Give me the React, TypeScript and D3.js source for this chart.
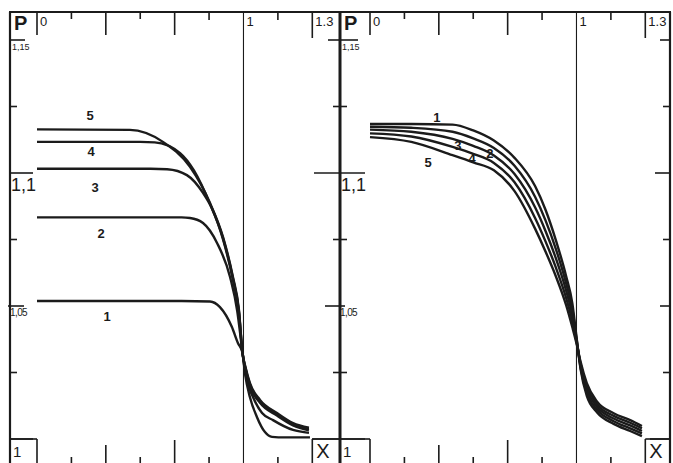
import React from 'react';
import * as d3 from 'd3';

// ---------- data ----------
const X_TICKS = [0, 1 / 6, 1 / 3, 1 / 2, 2 / 3, 5 / 6, 1, 7 / 6, 4 / 3];
const X_TICK_LABELS = [
  { v: 0, t: '0' },
  { v: 1, t: '1' },
  { v: 4 / 3, t: '1.3' },
];
const P_TICKS = [1, 1.025, 1.05, 1.075, 1.1, 1.125, 1.15];

// Left panel curves: [X, P]
const L1: [number, number][] = [[0, 1.0519], [0.7, 1.0519], [0.838, 1.0517], [0.886, 1.0496], [0.944, 1.0421], [0.973, 1.0361], [0.995, 1.0325], [1.007, 1.0248], [1.031, 1.0158], [1.065, 1.0083], [1.104, 1.0026], [1.138, 1.0008], [1.2, 1.0006], [1.322, 1.0006]];
const L2: [number, number][] = [[0, 1.0833], [0.7, 1.0833], [0.741, 1.0831], [0.804, 1.0812], [0.872, 1.0737], [0.935, 1.0609], [0.97, 1.048], [0.985, 1.039], [0.995, 1.0325], [1.015, 1.0225], [1.046, 1.0158], [1.09, 1.0098], [1.143, 1.0071], [1.24, 1.0034], [1.317, 1.0023]];
const L3: [number, number][] = [[0, 1.1016], [0.55, 1.1016], [0.63, 1.1014], [0.726, 1.0992], [0.804, 1.0925], [0.845, 1.087], [0.901, 1.075], [0.949, 1.0598], [0.978, 1.0474], [0.995, 1.0325], [1.01, 1.0262], [1.031, 1.02], [1.08, 1.0136], [1.162, 1.0088], [1.24, 1.0051], [1.317, 1.0033]];
const L4: [number, number][] = [[0, 1.1117], [0.5, 1.1117], [0.57, 1.1115], [0.693, 1.1075], [0.76, 1.101], [0.838, 1.0884], [0.901, 1.0755], [0.949, 1.0604], [0.978, 1.048], [0.995, 1.0325], [1.01, 1.0266], [1.031, 1.0206], [1.08, 1.0142], [1.162, 1.0093], [1.24, 1.0056], [1.317, 1.0038]];
const L5: [number, number][] = [[0, 1.1164], [0.45, 1.1162], [0.61, 1.1117], [0.741, 1.1023], [0.838, 1.0887], [0.901, 1.0759], [0.949, 1.0609], [0.978, 1.0485], [0.995, 1.0325], [1.01, 1.027], [1.031, 1.0211], [1.08, 1.0147], [1.162, 1.0098], [1.24, 1.006], [1.317, 1.0043]];
const LEFT_LABELS = ['1', '2', '3', '4', '5'];
const LEFT_LABEL_POS: [number, number][] = [[0.339, 1.0459], [0.31, 1.0774], [0.281, 1.0944], [0.262, 1.1079], [0.257, 1.1218]];

// Right panel curves share X samples
const RIGHT_X = [0, 0.2, 0.4, 0.5, 0.6, 0.7, 0.8, 0.85, 0.9, 0.95, 0.98, 1.0, 1.02, 1.05, 1.1, 1.18, 1.26, 1.317];
const R1_P = [1.1184, 1.1184, 1.1182, 1.116, 1.1122, 1.1057, 1.095, 1.0862, 1.0748, 1.0612, 1.051, 1.0385, 1.0262, 1.0162, 1.01, 1.0057, 1.003, 1.0011];
const R2_P = [1.1174, 1.117, 1.1155, 1.113, 1.1094, 1.1027, 1.091, 1.0822, 1.0715, 1.0585, 1.0488, 1.0378, 1.0268, 1.0174, 1.011, 1.0067, 1.004, 1.0021];
const R3_P = [1.1163, 1.1155, 1.1128, 1.1102, 1.1066, 1.0996, 1.087, 1.0782, 1.068, 1.0558, 1.0466, 1.0372, 1.0275, 1.0186, 1.012, 1.0077, 1.0051, 1.003];
const R4_P = [1.1149, 1.1137, 1.1098, 1.1072, 1.1038, 1.0965, 1.083, 1.0743, 1.0645, 1.053, 1.0443, 1.0366, 1.0282, 1.0198, 1.013, 1.0087, 1.0061, 1.004];
const R5_P = [1.1135, 1.1117, 1.1067, 1.104, 1.101, 1.0932, 1.079, 1.0705, 1.0612, 1.0503, 1.042, 1.036, 1.029, 1.021, 1.014, 1.0097, 1.0071, 1.0049];
const RIGHT_LABELS = ['1', '2', '3', '4', '5'];
const RIGHT_LABEL_POS: [number, number][] = [[0.324, 1.1207], [0.581, 1.1075], [0.426, 1.1105], [0.494, 1.1056], [0.281, 1.1038]];

// ---------- layout ----------
const W = 673;
const H = 463;
const TOP = 12;
const BOT = 463;
const FRAME_L = 10;
const FRAME_M = 340;
const FRAME_R = 670;
const INK = '#1b1b1b';
const FONT = '"Liberation Sans", Arial, sans-serif';

const yScale = d3.scaleLinear().domain([1, 1.15]).range([439, 40]);
const xLeft = d3.scaleLinear().domain([0, 4 / 3]).range([37, 312.3]);
const xRight = d3.scaleLinear().domain([0, 4 / 3]).range([370, 645.3]);

const TOP_TICK_LEN = [23, 7, 23, 7, 23, 8, 0, 8, 26];
const BOT_TICK_LEN = [24, 6, 18, 6, 23, 6, 0, 6, 24];

function Panel({ x, curves, labels, labelPos, axisX, width }: any) {
  const line = d3
    .line<[number, number]>()
    .x((d) => x(d[0]))
    .y((d) => yScale(d[1]))
    .curve(d3.curveMonotoneX);
  const axisLeft = axisX;
  return (
    <g>
      {X_TICKS.map((t, i) =>
        TOP_TICK_LEN[i] > 0 ? (
          <line key={'tt' + i} x1={x(t)} x2={x(t)} y1={TOP} y2={TOP + TOP_TICK_LEN[i]} stroke={INK} strokeWidth={1.6} />
        ) : null
      )}
      {X_TICKS.map((t, i) =>
        BOT_TICK_LEN[i] > 0 ? (
          <line key={'bt' + i} x1={x(t)} x2={x(t)} y1={BOT - BOT_TICK_LEN[i]} y2={BOT} stroke={INK} strokeWidth={1.6} />
        ) : null
      )}
      <line x1={x(1)} x2={x(1)} y1={TOP} y2={BOT} stroke={INK} strokeWidth={1.1} />
      {X_TICK_LABELS.map((l) => (
        <text key={'xl' + l.t} x={x(l.v) + 3} y={26} fontSize={13} fontFamily={FONT} fill={INK}>
          {l.t}
        </text>
      ))}
      <line x1={axisLeft} x2={x(0)} y1={yScale(1)} y2={yScale(1)} stroke={INK} strokeWidth={1.6} />
      <line x1={x(4 / 3)} x2={axisLeft + width} y1={yScale(1)} y2={yScale(1)} stroke={INK} strokeWidth={1.6} />
      <text x={axisLeft + 3} y={457} fontSize={15} fontFamily={FONT} fill={INK}>1</text>
      <text x={x(4 / 3) + 4} y={458} fontSize={20} fontFamily={FONT} fill={INK}>X</text>
      <text x={axisLeft + 4} y={30} fontSize={20} fontWeight="bold" fontFamily={FONT} fill={INK}>P</text>
      <text x={axisLeft + 2} y={50} fontSize={9} fontFamily={FONT} fill={INK}>1,15</text>
      <text x={axisLeft + 1} y={191} fontSize={18} fontFamily={FONT} fill={INK}>1,1</text>
      <text x={axisLeft} y={316} fontSize={10} letterSpacing={-0.6} fontFamily={FONT} fill={INK}>1,05</text>
      {curves.map((c: [number, number][], i: number) => (
        <path key={'c' + i} d={line(c) || ''} fill="none" stroke={INK} strokeWidth={2.4} strokeLinejoin="round" />
      ))}
      {labels.map((t: string, i: number) => (
        <text
          key={'lb' + i}
          x={x(labelPos[i][0])}
          y={yScale(labelPos[i][1])}
          fontSize={13}
          fontWeight="bold"
          fontFamily={FONT}
          textAnchor="middle"
          dominantBaseline="central"
          fill={INK}
        >
          {t}
        </text>
      ))}
    </g>
  );
}

const LEFT_AXIS_TICKS: [number, number][] = [[0, 23], [0, 7], [2, 14], [0, 7], [0, 23], [0, 7], [0, 15]];
const MID_AXIS_TICKS: [number, number][] = [[28, 25], [7, 7], [15, 5], [7, 7], [26, 25], [7, 7], [12, 18]];
const RIGHT_AXIS_TICKS: [number, number][] = [[20, 0], [7, 0], [10, 0], [7, 0], [15, 0], [7, 0], [10, 0]];

export default function App() {
  const zip = (ps: number[]) => RIGHT_X.map((v, i) => [v, ps[i]] as [number, number]);
  const rightCurves = [zip(R1_P), zip(R2_P), zip(R3_P), zip(R4_P), zip(R5_P)];
  const leftCurves = [L1, L2, L3, L4, L5];
  const axes: [number, [number, number][], number][] = [
    [FRAME_L, LEFT_AXIS_TICKS, 2.2],
    [FRAME_M, MID_AXIS_TICKS, 3],
    [FRAME_R, RIGHT_AXIS_TICKS, 2.2],
  ];
  return (
    <svg
      width={W}
      height={H}
      viewBox={`0 0 ${W} ${H}`}
      style={{ position: 'absolute', left: 0, top: 0, display: 'block', background: '#fff' }}
    >
      <rect x={0} y={0} width={W} height={H} fill="#fff" />
      <line x1={FRAME_L - 1} x2={FRAME_R + 1} y1={TOP} y2={TOP} stroke={INK} strokeWidth={2} />
      {axes.map(([ax, ticks, sw], k) => (
        <g key={'ax' + k}>
          <line x1={ax} x2={ax} y1={TOP} y2={BOT} stroke={INK} strokeWidth={sw} />
          {P_TICKS.map((p, i) => (
            <line
              key={'yt' + i}
              x1={ax - ticks[i][0]}
              x2={ax + ticks[i][1]}
              y1={yScale(p)}
              y2={yScale(p)}
              stroke={INK}
              strokeWidth={1.6}
            />
          ))}
        </g>
      ))}
      <Panel x={xLeft} curves={leftCurves} labels={LEFT_LABELS} labelPos={LEFT_LABEL_POS} axisX={FRAME_L} width={FRAME_M - FRAME_L} />
      <Panel x={xRight} curves={rightCurves} labels={RIGHT_LABELS} labelPos={RIGHT_LABEL_POS} axisX={FRAME_M} width={FRAME_R - FRAME_M} />
    </svg>
  );
}
